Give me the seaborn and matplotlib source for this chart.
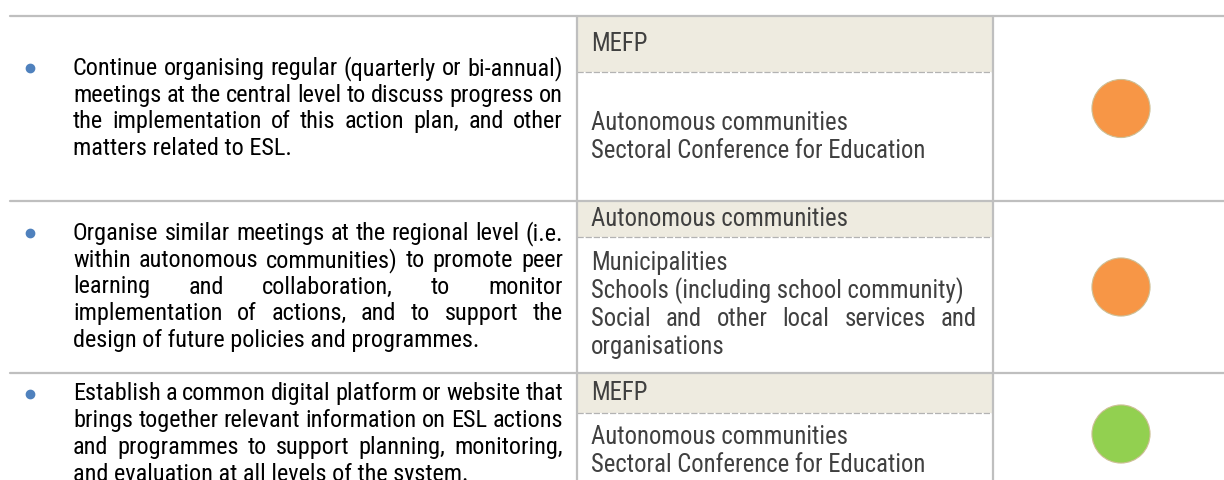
import pandas as pd
import seaborn as sns
import matplotlib.pyplot as plt
from matplotlib import font_manager

# table content
actions = [
    ["Continue organising regular (quarterly or bi-annual)",
     "meetings at the central level to discuss progress on",
     "the implementation of this action plan, and other",
     "matters related to ESL."],
    ["Organise similar meetings at the regional level (i.e.",
     "within autonomous communities) to promote peer",
     "learning and collaboration, to monitor",
     "implementation of actions, and to support the",
     "design of future policies and programmes."],
    ["Establish a common digital platform or website that",
     "brings together relevant information on ESL actions",
     "and programmes to support planning, monitoring,",
     "and evaluation at all levels of the system."],
]
lead_actors = ["MEFP", "Autonomous communities", "MEFP"]
partners = [
    ["Autonomous communities", "Sectoral Conference for Education"],
    ["Municipalities", "Schools (including school community)",
     "Social and other local services and", "organisations"],
    ["Autonomous communities", "Sectoral Conference for Education"],
]
# lines of the partner column that are justified
partners_justified = [[], [2], []]
status = ["amber", "amber", "green"]
status_colors = {"amber": "#f79646", "green": "#92d050"}

# layout in pixels
W, H = 1224, 480
row_edges = [16, 201, 373, 495]
header_bottom = [72, 237, 413]
col_mid = 577
col_status = 993
text_x0, text_x1 = 73, 563
part_x0, part_x1 = 591, 977
line_h = 26.8
part_line_h = 28

sns.set_theme(style="white")
installed = {f.name for f in font_manager.fontManager.ttflist}
narrow = ["Liberation Sans Narrow", "Arial Narrow", "Roboto Condensed",
          "Archivo Narrow", "PT Sans Narrow", "Liberation Sans"]
family = next((f for f in narrow if f in installed), "DejaVu Sans")
plt.rcParams["font.family"] = [family, "DejaVu Sans"]

fig = plt.figure(figsize=(W / 100, H / 100), dpi=100)
ax = fig.add_axes([0, 0, 1, 1])
ax.set_xlim(0, W)
ax.set_ylim(H, 0)
renderer = fig.canvas.get_renderer()


def text_width(s, size):
    t = ax.text(0, 0, s, fontsize=size)
    w = t.get_window_extent(renderer).width
    t.remove()
    return w


# fit font sizes to the widths of unjustified lines in the reference
fs = 10 * 405 / text_width("design of future policies and programmes.", 10)
fs_part = 10 * 333 / text_width("Sectoral Conference for Education", 10)


def draw_line(line, x0, x1, y, color, size, justify):
    words = line.split()
    if not justify or len(words) < 2:
        ax.text(x0, y, line, fontsize=size, color=color, va="center", ha="left")
        return
    widths = [text_width(w, size) for w in words]
    gap = (x1 - x0 - sum(widths)) / (len(words) - 1)
    x = x0
    for w, wd in zip(words, widths):
        ax.text(x, y, w, fontsize=size, color=color, va="center", ha="left")
        x += wd + gap


# header shading and grid lines
for i in range(len(actions)):
    ax.fill_between([col_mid + 1, col_status - 1], row_edges[i], header_bottom[i],
                    color="#eeebe0", lw=0, zorder=0)
    ax.plot([col_mid, col_status], [header_bottom[i]] * 2, color="#b3b3b3",
            lw=0.9, ls=(0, (5, 1.5)), zorder=1)
for y in row_edges[:-1]:
    ax.plot([10, W], [y, y], color="#bfbfbf", lw=1.6, zorder=2)
for x in [col_mid, col_status]:
    ax.plot([x, x], [row_edges[0], H], color="#bfbfbf", lw=1.6, zorder=2)

# action text with bullet
for i, lines in enumerate(actions):
    center = (row_edges[i] + row_edges[i + 1]) / 2
    y0 = center - (len(lines) - 1) * line_h / 2
    ax.plot(30, y0, "o", color="#4f81bd", ms=6, zorder=3)
    for j, line in enumerate(lines):
        draw_line(line, text_x0, text_x1, y0 + j * line_h, "black", fs,
                  j < len(lines) - 1)

# lead actor and partners
for i in range(len(actions)):
    hy = (row_edges[i] + header_bottom[i]) / 2
    ax.text(part_x0, hy, lead_actors[i], fontsize=fs_part, color="#404040",
            va="center", ha="left")
    lines = partners[i]
    bc = (header_bottom[i] + row_edges[i + 1]) / 2
    if i == len(actions) - 1:
        bc = (header_bottom[i] + H + 8) / 2
    y0 = bc - (len(lines) - 1) * part_line_h / 2
    for j, line in enumerate(lines):
        draw_line(line, part_x0, part_x1, y0 + j * part_line_h, "#404040",
                  fs_part, j in partners_justified[i])

# status circles
status_df = pd.DataFrame({
    "x": [1121] * len(status),
    "y": [(row_edges[i] + row_edges[i + 1]) / 2 for i in range(len(status))],
    "status": status,
})
sns.scatterplot(data=status_df, x="x", y="y", hue="status",
                palette=status_colors, s=1750, edgecolor="#cdbf95",
                linewidth=0.8, legend=False, ax=ax, zorder=4)

ax.set_xlim(0, W)
ax.set_ylim(H, 0)
ax.axis("off")
fig.savefig("out.png", dpi=100)
